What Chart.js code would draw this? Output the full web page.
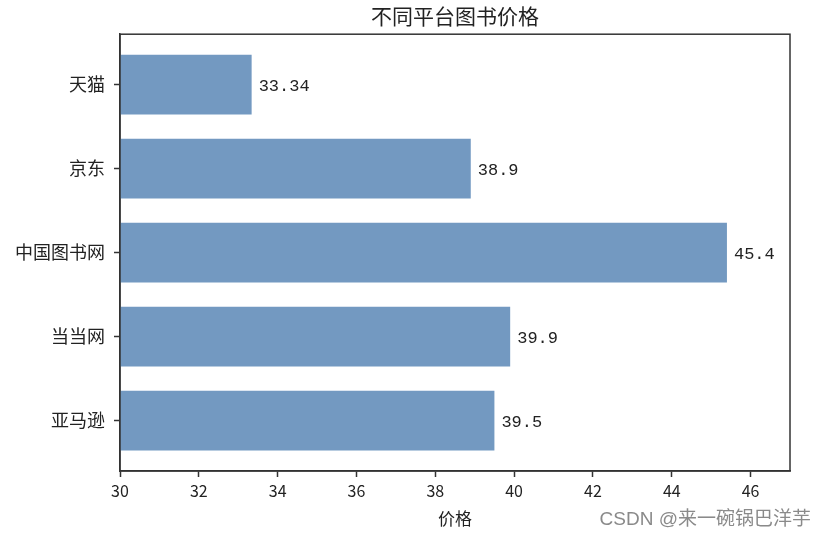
<!DOCTYPE html>
<html>
<head>
<meta charset="utf-8">
<script src="https://cdn.jsdelivr.net/npm/chart.js@4/dist/chart.umd.min.js"></script>
<style>
  html, body { margin: 0; padding: 0; background: #fff; }
  #wrap { width: 826px; height: 540px; position: relative; }
</style>
</head>
<body>
<div id="wrap"><canvas id="myChart"></canvas></div>
<script>
/* DONNEES */
const platforms = ['天猫', '京东', '中国图书网', '当当网', '亚马逊'];
const prices = [33.34, 38.9, 45.4, 39.9, 39.5];
const priceLabels = ['33.34', '38.9', '45.4', '39.9', '39.5'];
const xTicks = [30, 32, 34, 36, 38, 40, 42, 44, 46];

const CJK = '"Noto Sans CJK SC", "Noto Sans", sans-serif';
const ink = '#222';

/* cadre autour de la zone du graphique */
const frame = {
    id: 'frame',
    afterDatasetsDraw(chart) {
        const a = chart.chartArea;
        const ctx = chart.ctx;
        ctx.save();
        ctx.strokeStyle = '#333';
        ctx.lineWidth = 1.5;
        ctx.strokeRect(a.left, a.top, a.right - a.left, a.bottom - a.top);
        ctx.restore();
    }
};

/* valeurs au bout des barres */
const valueLabels = {
    id: 'valueLabels',
    afterDatasetsDraw(chart) {
        const ctx = chart.ctx;
        const meta = chart.getDatasetMeta(0);
        ctx.save();
        ctx.font = '17px "Liberation Mono", monospace';
        ctx.fillStyle = ink;
        ctx.textBaseline = 'middle';
        ctx.textAlign = 'left';
        meta.data.forEach(function (bar, i) {
            ctx.fillText(priceLabels[i], bar.x + 7, bar.y + 2);
        });
        ctx.restore();
    }
};

/* filigrane */
const watermark = {
    id: 'watermark',
    afterDraw(chart) {
        const ctx = chart.ctx;
        ctx.save();
        ctx.font = '19px "Liberation Sans", ' + CJK;
        ctx.fillStyle = '#8a8a8a';
        ctx.textAlign = 'right';
        ctx.textBaseline = 'middle';
        ctx.fillText('CSDN @来一碗锅巴洋芋', 811, 520);
        ctx.restore();
    }
};

const ctx = document.getElementById('myChart').getContext('2d');
const myChart = new Chart(ctx, {
    type: 'bar',
    data: {
        labels: platforms,
        datasets: [{
            data: platforms.map(function (p, i) { return { y: i, x: prices[i] }; }),
            backgroundColor: '#7399c1',
            borderWidth: 0,
            categoryPercentage: 1,
            barPercentage: 0.71
        }]
    },
    plugins: [frame, valueLabels, watermark],
    options: {
        indexAxis: 'y',
        responsive: true,
        maintainAspectRatio: false,
        devicePixelRatio: 1,
        animation: false,
        layout: { padding: { top: 0, right: 36, left: 0, bottom: 0 } },
        plugins: {
            legend: { display: false },
            tooltip: { enabled: false },
            title: {
                display: true,
                text: '不同平台图书价格',
                fullSize: false,
                color: ink,
                font: { family: CJK, size: 21, weight: 'normal' },
                padding: { top: 3, bottom: 6 }
            }
        },
        scales: {
            x: {
                type: 'linear',
                min: 30,
                max: 47,
                afterBuildTicks: function (scale) {
                    scale.ticks = xTicks.map(function (v) { return { value: v }; });
                },
                afterFit: function (scale) { scale.height = 69; },
                grid: { drawOnChartArea: false, drawTicks: true, tickLength: 6, tickColor: '#333', tickWidth: 1.5 },
                border: { display: true, color: '#333', width: 1.5 },
                ticks: { color: ink, padding: 4, font: { family: CJK, size: 16 } },
                title: {
                    display: true,
                    text: '价格',
                    color: ink,
                    font: { family: CJK, size: 17 },
                    padding: { top: 0, bottom: 11 }
                }
            },
            y: {
                type: 'linear',
                min: -0.6,
                max: 4.6,
                reverse: true,
                offset: false,
                afterBuildTicks: function (scale) {
                    scale.ticks = platforms.map(function (p, i) { return { value: i }; });
                },
                afterFit: function (scale) { scale.width = 120; },
                grid: { offset: false, drawOnChartArea: false, drawTicks: true, tickLength: 6, tickColor: '#333', tickWidth: 1.5 },
                border: { display: true, color: '#333', width: 1.5 },
                ticks: {
                    color: ink,
                    padding: 9,
                    font: { family: CJK, size: 18 },
                    callback: function (value) { return platforms[value]; }
                }
            }
        }
    }
});
</script>
</body>
</html>
